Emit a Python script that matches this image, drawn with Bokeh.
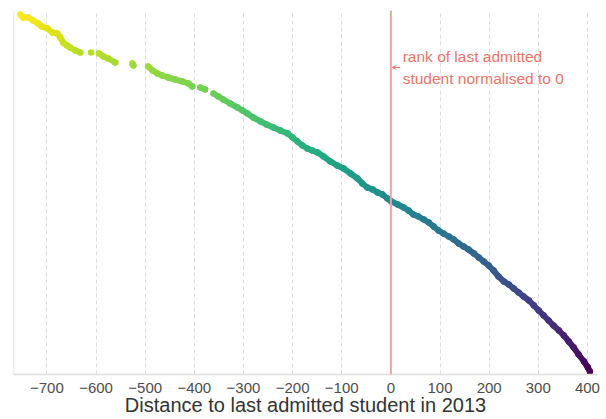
from bokeh.plotting import figure
from bokeh.models import (ColumnDataSource, Range1d, FixedTicker, Span, Arrow,
                          OpenHead, Label)
from bokeh.transform import linear_cmap
from bokeh.palettes import Viridis256
from bokeh.embed import file_html
from bokeh.resources import INLINE

# distance to last admitted student (x) and score position (y, arbitrary units)
dist = [-754, -748, -738, -728, -718, -710, -699, -689, -679, -673, -667, -659, -653, -642, -632,
        -610, -594, -585, -575, -561, -526, -524,
        -494, -485, -475, -465, -453, -439, -424, -412, -404,
        -388, -378, -361, -351, -341, -327, -312, -302, -292, -280, -265, -253, -239, -225, -210,
        -200, -190, -180, -170, -160, -149, -137, -123, -109, -96, -82, -68, -58, -48, -37, -27,
        -17, -7, 1, 14, 26, 36, 46, 56, 67, 77, 87, 97, 107, 118, 128, 138, 148, 158, 169, 179,
        189, 199, 209, 219, 230, 240, 250, 260, 270, 281, 291, 301, 311, 321, 331, 342, 352, 362,
        372, 382, 393, 401, 405]
score = [360, 357, 357, 354, 351, 348, 346, 342, 341, 337, 332, 329, 327, 324, 322,
         322, 321, 318, 316, 312, 311, 309,
         308, 304, 301, 299, 297, 295, 293, 291, 288,
         287, 285, 281, 278, 275, 271, 267, 264, 261, 257, 253, 250, 247, 244, 241,
         237, 233, 229, 226, 224, 222, 218, 213, 209, 206, 201, 196, 191, 187, 185, 182,
         180, 176, 173, 170, 167, 164, 160, 158, 155, 152, 148, 144, 141, 138, 135, 131, 128, 125, 121, 117,
         113, 109, 104, 98, 93, 90, 86, 82, 78, 74, 69, 64, 59, 54, 49, 44, 39, 33,
         27, 20, 13, 7, 3]

tick_values = [-700, -600, -500, -400, -300, -200, -100, 0, 100, 200, 300, 400]
tick_labels = ["\u2212700", "\u2212600", "\u2212500", "\u2212400", "\u2212300", "\u2212200",
               "\u2212100", "0", "100", "200", "300", "400"]

annotation = "rank of last admitted\nstudent normalised to 0"
x_title = "Distance to last admitted student in 2013"

FONT = "Liberation Sans"
RED_LINE = "#f0a49c"
RED_TEXT = "#e8756a"

p = figure(frame_width=584, frame_height=364, output_backend="svg", toolbar_location=None,
           x_range=Range1d(-768, 420.5), y_range=Range1d(0, 364),
           min_border_left=13, min_border_right=3, min_border_top=10, min_border_bottom=0)
p.outline_line_color = None
p.background_fill_color = "white"
p.border_fill_color = "white"

# segments between neighbouring observations (continuous ribbon look)
x0, y0, x1, y1, ym = [], [], [], [], []
for i in range(len(dist) - 1):
    if dist[i + 1] - dist[i] <= 15:
        x0.append(dist[i]); y0.append(score[i])
        x1.append(dist[i + 1]); y1.append(score[i + 1])
        ym.append((score[i] + score[i + 1]) / 2)
seg = ColumnDataSource(dict(x0=x0, y0=y0, x1=x1, y1=y1, ym=ym))
pts = ColumnDataSource(dict(x=dist, y=score))

lo, hi = min(score), max(score)
p.segment("x0", "y0", "x1", "y1", source=seg, line_width=6, line_cap="round",
          line_color=linear_cmap("ym", Viridis256, lo, hi))
p.scatter("x", "y", source=pts, size=6.5, line_color=None,
          fill_color=linear_cmap("y", Viridis256, lo, hi))

# vertical reference line at 0
p.add_layout(Span(location=0, dimension="height", line_color=RED_LINE, line_width=2))
# left axis line
p.add_layout(Span(location=-768, dimension="height", line_color="#dcdcdc", line_width=1.5))

p.add_layout(Arrow(end=OpenHead(size=4, line_color=RED_TEXT, line_width=1),
                   x_start=19, y_start=307, x_end=3, y_end=307,
                   line_color=RED_TEXT, line_width=1))
p.add_layout(Label(x=24, y=307, text=annotation, text_font=FONT, text_font_size="15.5px",
                   text_color=RED_TEXT, text_baseline="middle", text_line_height=1.3))

p.yaxis.visible = False
p.ygrid.grid_line_color = None
p.xgrid.grid_line_color = "#dcdcdc"
p.xgrid.grid_line_dash = "4 3"
p.xgrid.ticker = FixedTicker(ticks=tick_values)

ax = p.xaxis[0]
ax.ticker = FixedTicker(ticks=tick_values)
ax.major_label_overrides = {v: s for v, s in zip(tick_values, tick_labels)}
ax.axis_line_color = "#dcdcdc"
ax.axis_line_width = 1.5
ax.major_tick_line_color = None
ax.minor_tick_line_color = None
ax.major_label_standoff = 2
ax.major_label_text_font = FONT
ax.major_label_text_font_size = "15px"
ax.major_label_text_color = "#4d4d4d"
ax.axis_label = x_title
ax.axis_label_text_font = FONT
ax.axis_label_text_font_size = "20px"
ax.axis_label_text_font_style = "normal"
ax.axis_label_text_color = "#333333"
ax.axis_label_standoff = -2

open("out.html", "w").write(file_html(p, INLINE))
